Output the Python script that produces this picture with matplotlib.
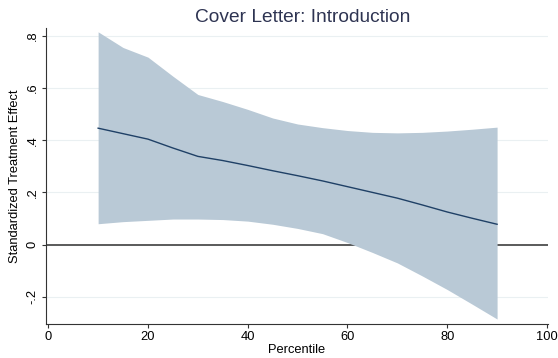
import matplotlib.pyplot as plt

# percentiles and estimates
percentile = [10, 15, 20, 25, 30, 35, 40, 45, 50, 55, 60, 65, 70, 75, 80, 85, 90]
effect = [0.446, 0.425, 0.404, 0.370, 0.338, 0.322, 0.303, 0.283, 0.264, 0.244,
          0.222, 0.200, 0.178, 0.152, 0.125, 0.101, 0.078]
upper = [0.815, 0.755, 0.718, 0.645, 0.575, 0.548, 0.518, 0.485, 0.462, 0.448,
         0.437, 0.430, 0.428, 0.430, 0.435, 0.442, 0.450]
lower = [0.080, 0.088, 0.093, 0.098, 0.098, 0.096, 0.090, 0.078, 0.062, 0.042,
         0.008, -0.030, -0.070, -0.120, -0.172, -0.228, -0.285]

yticks = [-0.2, 0, 0.2, 0.4, 0.6, 0.8]
ytick_labels = ['-.2', '0', '.2', '.4', '.6', '.8']
xticks = [0, 20, 40, 60, 80, 100]

plt.rcParams['font.family'] = ['Liberation Sans', 'DejaVu Sans']

fig = plt.figure(figsize=(5.58, 3.58), dpi=100)
ax = fig.add_axes([0.082, 0.095, 0.900, 0.827])

# gridlines
for y in yticks:
    ax.axhline(y, color='#eaf0f2', linewidth=0.8, zorder=0)

ax.fill_between(percentile, lower, upper, color='#b9c9d6', linewidth=0, zorder=2)
ax.axhline(0, color='#5a5a5a', linewidth=1.4, zorder=1)
ax.plot(percentile, effect, color='#1f4066', linewidth=1.0, zorder=3)

ax.set_xlim(-0.5, 100.2)
ax.set_ylim(-0.304, 0.83)

ax.set_xticks(xticks)
ax.set_yticks(yticks)
ax.set_yticklabels(ytick_labels, rotation=90, va='center')
ax.tick_params(labelsize=9.3, length=3, width=0.8, color='#333333', pad=2)

for side in ['top', 'right']:
    ax.spines[side].set_visible(False)
for side in ['left', 'bottom']:
    ax.spines[side].set_color('#333333')
    ax.spines[side].set_linewidth(0.8)

ax.set_xlabel('Percentile', fontsize=9.3, labelpad=1)
ax.set_ylabel('Standardized Treatment Effect', fontsize=9.3, labelpad=4)
ax.set_title('Cover Letter: Introduction', fontsize=13.8, color='#2e3452', pad=4, x=0.511)

fig.savefig('out.png', dpi=100)
